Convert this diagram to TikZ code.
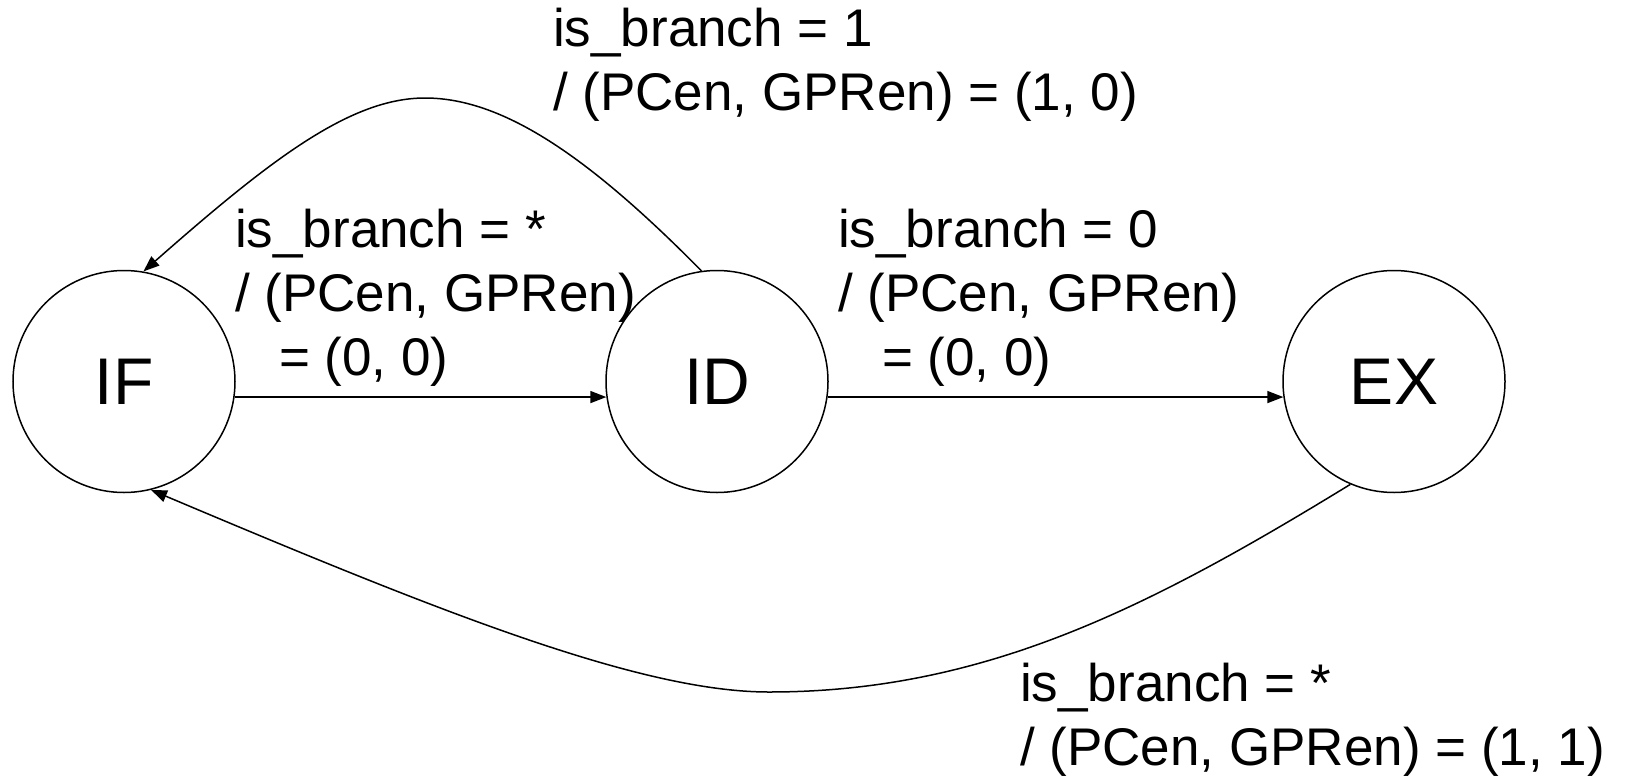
\documentclass[tikz,border=0pt]{standalone}
\usepackage{fontspec}
\setmainfont{Liberation Sans}
\usetikzlibrary{arrows.meta}
\begin{document}
\begin{tikzpicture}[x=1pt,y=-1pt,
  state/.style={circle,draw,line width=1.5pt,minimum size=222pt,inner sep=0pt,font=\fontsize{66}{66}\selectfont},
  lbl/.style={anchor=north west,inner sep=0pt,align=left,font=\fontsize{53}{64}\selectfont},
  arr/.style={line width=1.5pt,-{Triangle[length=16pt,width=12pt]}}]
\useasboundingbox (0,0) rectangle (1629,776);
\node[state] (IF) at (124,381.5) {IF};
\node[state] (ID) at (717,381.5) {ID};
\node[state] (EX) at (1394,381.5) {EX};
\draw[arr] (IF.-8.5) -- (ID.188.5);
\draw[arr] (ID.-8.5) -- (EX.188.5);
\coordinate (peak) at (425,98);
\coordinate (low) at (769,692);
\draw[arr] (ID.98) .. controls (592,160) and (505,98) .. (peak)
  .. controls (350,98) and (270,160) .. (IF.80);
\draw[arr] (EX.247) .. controls (1150,607) and (985,692) .. (low)
  .. controls (640,692) and (440,612) .. (IF.-76.6);
\node[lbl] (l1) at (553,8) {is\_branch = 1\\/ (PCen, GPRen) = (1, 0)};
\node[lbl] (l2) at (235,209) {is\_branch = *\\/ (PCen, GPRen)\\\hspace*{44pt}= (0, 0)};
\node[lbl] (l3) at (838,209) {is\_branch = 0\\/ (PCen, GPRen)\\\hspace*{44pt}= (0, 0)};
\node[lbl] (l4) at (1020,663) {is\_branch = *\\/ (PCen, GPRen) = (1, 1)};
\end{tikzpicture}
\end{document}
